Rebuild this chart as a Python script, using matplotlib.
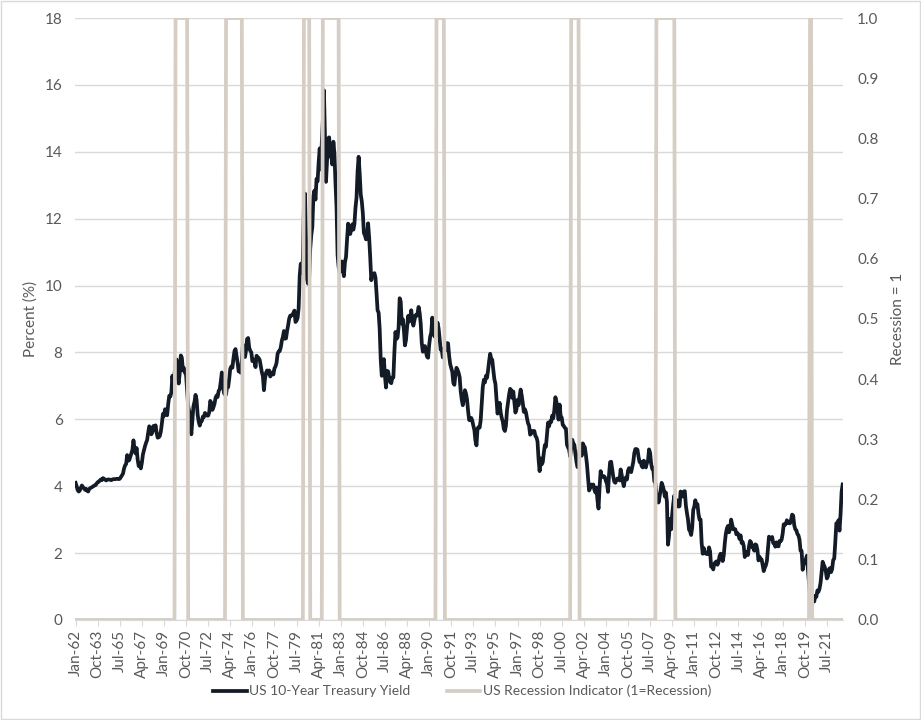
import numpy as np
import pandas as pd
import matplotlib.pyplot as plt
from matplotlib.patches import Rectangle

plt.rcParams['font.family'] = ['Lato', 'DejaVu Sans']

# US 10-year treasury yield, monthly, Jan-1962 .. Oct-2022
yield_1960s = [
    4.10, 4.00, 3.88, 3.84, 3.87, 3.95, 4.02, 3.97, 3.94, 3.89, 3.92, 3.86,
    3.84, 3.92, 3.94, 3.96, 3.98, 4.00, 4.02, 4.03, 4.08, 4.12, 4.13, 4.17,
    4.20, 4.18, 4.24, 4.22, 4.20, 4.17, 4.19, 4.20, 4.20, 4.19, 4.18, 4.20,
    4.21, 4.21, 4.21, 4.22, 4.22, 4.21, 4.22, 4.27, 4.32, 4.37, 4.52, 4.62,
    4.66, 4.93, 4.76, 4.78, 4.88, 4.98, 5.08, 5.37, 5.12, 4.98, 5.14, 4.79,
    4.60, 4.68, 4.53, 4.70, 4.95, 5.08, 5.20, 5.30, 5.38, 5.60, 5.79, 5.75,
    5.55, 5.62, 5.80, 5.68, 5.82, 5.60, 5.45, 5.46, 5.50, 5.63, 5.87, 6.16,
    6.10, 6.30, 6.24, 6.12, 6.45, 6.70, 6.68, 6.80, 7.30, 6.95, 7.35, 7.70,
]
yield_1970s = [
    7.79, 7.24, 7.07, 7.39, 7.91, 7.84, 7.46, 7.53, 7.39, 7.33, 6.84, 6.39,
    6.24, 5.95, 5.55, 5.95, 6.39, 6.52, 6.73, 6.58, 6.14, 5.93, 5.81, 5.93,
    5.95, 6.08, 6.07, 6.19, 6.13, 6.11, 6.11, 6.21, 6.55, 6.48, 6.28, 6.36,
    6.46, 6.64, 6.71, 6.67, 6.85, 6.90, 7.13, 7.40, 7.09, 6.79, 6.73, 6.74,
    6.99, 6.96, 7.21, 7.51, 7.58, 7.54, 7.81, 8.04, 8.10, 7.90, 7.68, 7.43,
    7.50, 7.39, 7.73, 8.23, 8.06, 7.86, 8.06, 8.40, 8.43, 8.14, 8.05, 8.00,
    7.74, 7.79, 7.73, 7.56, 7.90, 7.86, 7.83, 7.77, 7.59, 7.41, 7.29, 6.87,
    7.21, 7.39, 7.46, 7.37, 7.46, 7.28, 7.33, 7.40, 7.34, 7.52, 7.58, 7.69,
    7.96, 8.03, 8.04, 8.15, 8.35, 8.46, 8.64, 8.41, 8.42, 8.64, 8.81, 9.01,
    9.10, 9.10, 9.12, 9.18, 9.25, 8.91, 8.95, 9.03, 9.33, 10.30, 10.65, 10.39,
]
yield_1980s = [
    10.80, 12.41, 12.75, 11.47, 10.18, 10.05, 10.25, 11.10, 11.51, 11.75, 12.68, 12.84,
    12.57, 13.19, 13.12, 13.68, 14.10, 13.47, 14.28, 14.94, 15.84, 14.50, 13.10, 13.72,
    14.40, 14.43, 13.86, 13.87, 13.62, 14.30, 13.95, 13.06, 12.34, 10.91, 10.55, 10.40,
    10.46, 10.72, 10.51, 10.28, 10.70, 10.85, 11.38, 11.85, 11.65, 11.54, 11.69, 11.83,
    11.67, 11.84, 12.32, 12.63, 13.41, 13.85, 13.36, 12.72, 12.52, 12.16, 11.57, 11.50,
    11.38, 11.51, 11.86, 11.43, 10.85, 10.16, 10.31, 10.33, 10.37, 10.24, 9.78, 9.26,
    9.19, 8.70, 7.78, 7.30, 7.71, 7.80, 7.30, 6.95, 7.45, 7.43, 7.25, 7.11,
    7.08, 7.25, 7.25, 8.02, 8.61, 8.40, 8.45, 8.76, 9.62, 9.52, 8.86, 8.99,
    8.67, 8.21, 8.37, 8.72, 9.09, 8.92, 9.06, 9.26, 8.98, 8.80, 8.96, 9.11,
    9.09, 9.17, 9.36, 9.18, 8.86, 8.28, 8.02, 8.11, 8.19, 8.01, 7.87, 7.84,
]
yield_1990s = [
    8.21, 8.47, 8.59, 9.04, 8.76, 8.48, 8.47, 8.75, 8.89, 8.72, 8.39, 8.08,
    8.09, 7.85, 8.11, 8.04, 8.07, 8.28, 8.27, 7.90, 7.65, 7.53, 7.42, 7.09,
    7.03, 7.34, 7.54, 7.48, 7.39, 7.26, 6.84, 6.59, 6.42, 6.59, 6.87, 6.77,
    6.60, 6.26, 5.98, 5.97, 6.04, 5.96, 5.81, 5.68, 5.36, 5.22, 5.72, 5.77,
    5.75, 5.97, 6.48, 6.97, 7.18, 7.10, 7.30, 7.24, 7.46, 7.74, 7.96, 7.81,
    7.78, 7.47, 7.20, 7.06, 6.63, 6.17, 6.28, 6.49, 6.20, 6.04, 5.93, 5.71,
    5.65, 5.81, 6.27, 6.51, 6.74, 6.91, 6.87, 6.64, 6.83, 6.53, 6.20, 6.30,
    6.58, 6.42, 6.69, 6.89, 6.71, 6.49, 6.22, 6.30, 6.21, 6.03, 5.88, 5.81,
    5.54, 5.57, 5.65, 5.64, 5.65, 5.50, 5.46, 5.34, 4.81, 4.45, 4.83, 4.65,
    4.72, 5.00, 5.23, 5.18, 5.54, 5.90, 5.79, 5.94, 5.92, 6.11, 6.03, 6.28,
]
yield_2000s = [
    6.66, 6.52, 6.26, 5.99, 6.44, 6.10, 6.05, 5.83, 5.80, 5.74, 5.72, 5.24,
    5.16, 5.10, 4.89, 5.14, 5.39, 5.28, 5.24, 4.97, 4.73, 4.57, 4.65, 5.09,
    5.04, 4.91, 5.28, 5.21, 5.16, 4.93, 4.65, 4.26, 3.87, 3.94, 4.05, 4.03,
    4.05, 3.90, 3.81, 3.96, 3.57, 3.33, 3.98, 4.45, 4.27, 4.29, 4.30, 4.27,
    4.15, 4.08, 3.83, 4.35, 4.72, 4.73, 4.50, 4.28, 4.13, 4.10, 4.19, 4.23,
    4.22, 4.17, 4.50, 4.34, 4.14, 4.00, 4.18, 4.26, 4.20, 4.46, 4.54, 4.47,
    4.42, 4.57, 4.72, 4.99, 5.11, 5.11, 5.09, 4.88, 4.72, 4.73, 4.60, 4.56,
    4.76, 4.72, 4.56, 4.69, 4.75, 5.10, 5.00, 4.67, 4.52, 4.53, 4.15, 4.10,
    3.74, 3.74, 3.51, 3.68, 3.88, 4.10, 4.01, 3.89, 3.69, 3.81, 3.53, 2.25,
    2.52, 3.02, 2.71, 3.16, 3.47, 3.72, 3.56, 3.59, 3.40, 3.39, 3.40, 3.84,
]
yield_2010s = [
    3.73, 3.69, 3.84, 3.85, 3.42, 3.20, 3.01, 2.70, 2.65, 2.54, 2.76, 3.29,
    3.39, 3.58, 3.41, 3.46, 3.17, 3.00, 3.00, 2.30, 1.98, 2.15, 2.01, 1.98,
    1.97, 1.97, 2.17, 2.05, 1.59, 1.62, 1.51, 1.68, 1.72, 1.75, 1.65, 1.72,
    1.91, 1.98, 1.96, 1.76, 1.93, 2.30, 2.58, 2.74, 2.81, 2.62, 2.72, 3.00,
    2.86, 2.71, 2.72, 2.71, 2.56, 2.60, 2.54, 2.42, 2.53, 2.30, 2.33, 2.21,
    1.88, 1.98, 2.04, 1.94, 2.20, 2.36, 2.32, 2.17, 2.17, 2.07, 2.26, 2.24,
    2.09, 1.78, 1.89, 1.81, 1.81, 1.64, 1.46, 1.56, 1.63, 1.76, 2.14, 2.49,
    2.43, 2.42, 2.48, 2.30, 2.30, 2.19, 2.32, 2.21, 2.20, 2.36, 2.35, 2.40,
    2.58, 2.86, 2.84, 2.87, 2.98, 2.91, 2.89, 2.89, 3.00, 3.15, 3.12, 2.83,
    2.71, 2.68, 2.57, 2.53, 2.40, 2.07, 2.06, 1.50, 1.70, 1.71, 1.81, 1.92,
]
yield_2020s = [
    1.51, 1.13, 0.70, 0.64, 0.65, 0.66, 0.55, 0.72, 0.69, 0.88, 0.84, 0.93,
    1.11, 1.44, 1.74, 1.65, 1.58, 1.45, 1.24, 1.30, 1.52, 1.55, 1.43, 1.52,
    1.79, 1.83, 2.32, 2.89, 2.85, 2.98, 2.67, 3.15, 3.83, 4.05,
]

# NBER recessions (first and last month flagged as 1)
rec_start = ["1969-12", "1973-12", "1980-02", "1981-08", "1990-08", "2001-04", "2008-01", "2020-03"]
rec_end = ["1970-11", "1975-03", "1980-07", "1982-11", "1991-03", "2001-11", "2009-06", "2020-04"]

ust10 = np.array(yield_1960s + yield_1970s + yield_1980s + yield_1990s
                 + yield_2000s + yield_2010s + yield_2020s)
months = pd.date_range("1962-01-01", periods=len(ust10), freq="MS")
recession = np.zeros(len(months))
for s, e in zip(rec_start, rec_end):
    recession[(months >= pd.Timestamp(s)) & (months <= pd.Timestamp(e))] = 1

x = np.arange(len(months))
grey_txt = "#595959"
grid_c = "#D9D9D9"
fs = 11

fig = plt.figure(figsize=(9.21, 7.2), dpi=100)
ax = fig.add_axes([0.0815, 0.139, 0.834, 0.836])
ax2 = ax.twinx()

l1, = ax.plot(x, ust10, color="#131B26", lw=2.7, solid_joinstyle="round",
              label="US 10-Year Treasury Yield")
l2, = ax2.plot(x, recession, color="#D6CEC5", lw=2.7,
               label="US Recession Indicator (1=Recession)")

ax.set_xlim(-0.5, len(x) - 0.5)
ax.set_ylim(0, 18)
ax.set_yticks(range(0, 19, 2))
ax2.set_ylim(0, 1)
ax2.set_yticks(np.arange(0, 1.01, 0.1))
ax2.set_yticklabels([f"{v:.1f}" for v in np.arange(0, 1.01, 0.1)])

tick_idx = x[::21]
ax.set_xticks(tick_idx)
ax.set_xticklabels([months[i].strftime("%b-%y") for i in tick_idx], rotation=90)

ax.yaxis.grid(True, color=grid_c, lw=1)
ax.set_axisbelow(True)
for a in (ax, ax2):
    for sp in a.spines.values():
        sp.set_visible(False)
ax.spines["bottom"].set_visible(True)
ax.spines["bottom"].set_color(grid_c)

ax.tick_params(axis="y", length=0, pad=9, labelsize=fs, labelcolor=grey_txt)
ax2.tick_params(axis="y", length=0, pad=10, labelsize=fs, labelcolor=grey_txt)
ax.tick_params(axis="x", length=4, color=grid_c, pad=3, labelsize=fs, labelcolor=grey_txt)

ax.set_ylabel("Percent (%)", fontsize=fs, color=grey_txt, labelpad=5)
ax2.set_ylabel("Recession = 1", fontsize=fs, color=grey_txt, labelpad=9)

fig.legend(handles=[l1, l2], loc="center", bbox_to_anchor=(0.502, 0.04), ncol=2,
           frameon=False, fontsize=10, labelcolor=grey_txt, handlelength=2.4,
           handletextpad=0.2, columnspacing=2.6)

fig.add_artist(Rectangle((0.001, 0.001), 0.998, 0.998, transform=fig.transFigure,
                         fill=False, edgecolor=grid_c, lw=1))

fig.savefig("out.png", dpi=100)
